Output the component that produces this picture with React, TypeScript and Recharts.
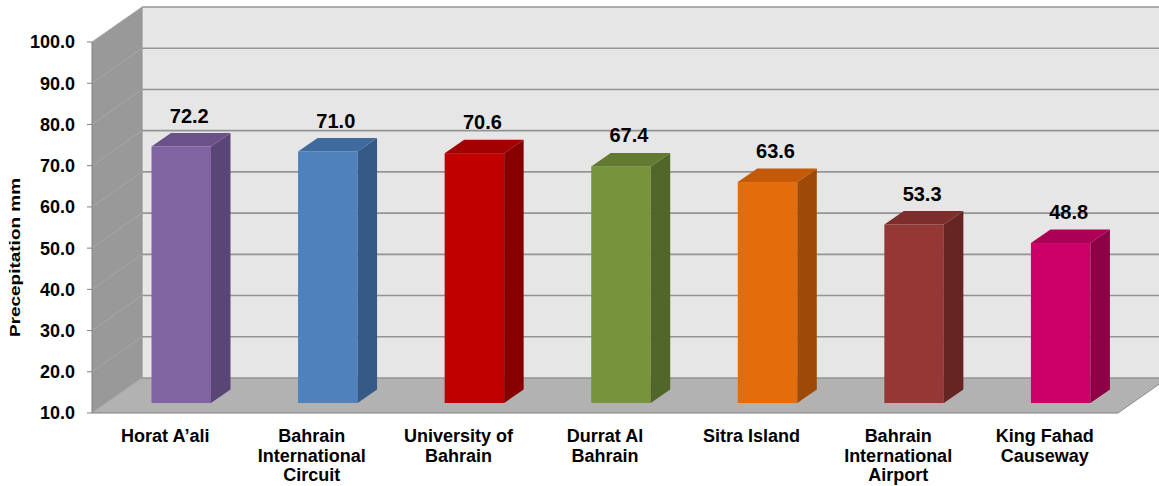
import React from 'react';
import { BarChart, Bar, XAxis, YAxis, CartesianGrid, LabelList } from 'recharts';

document.body.style.margin = '0';

const stations = [
  'Horat A’ali',
  'Bahrain\nInternational\nCircuit',
  'University of\nBahrain',
  'Durrat Al\nBahrain',
  'Sitra Island',
  'Bahrain\nInternational\nAirport',
  'King Fahad\nCauseway',
];
const rainfall = [72.2, 71.0, 70.6, 67.4, 63.6, 53.3, 48.8];
const yTicks = [10, 20, 30, 40, 50, 60, 70, 80, 90, 100];

const frontColors = ['#8064A2', '#4F81BD', '#C00000', '#77933C', '#E46C0A', '#953735', '#CC0066'];
const topColors = ['#6A5189', '#3E6A9E', '#A30000', '#627A31', '#C25A08', '#7C2D2C', '#AC0056'];
const sideColors = ['#594576', '#365A86', '#860000', '#51672A', '#9E4A07', '#662523', '#8C0046'];

const data = stations.map((name, i) => ({ name, value: rainfall[i] }));

// 3d look: offset of the back wall, of the bar inside the depth, and of the bar's own depth
const WALL_DX = 50;
const WALL_DY = -35;
const BAR_DX = 15.5;
const BAR_DY = -10;
const DEPTH_DX = 19.5;
const DEPTH_DY = -13.5;

const FONT = '"Liberation Sans", Arial, sans-serif';

const Bar3D = (props: any) => {
  const { x, y, width, height, index } = props;
  const fx = x + BAR_DX;
  const fy = y + BAR_DY;
  const r = fx + width;
  const b = fy + height;
  const top = `${fx},${fy} ${fx + DEPTH_DX},${fy + DEPTH_DY} ${r + DEPTH_DX},${fy + DEPTH_DY} ${r},${fy}`;
  const side = `${r},${fy} ${r + DEPTH_DX},${fy + DEPTH_DY} ${r + DEPTH_DX},${b + DEPTH_DY} ${r},${b}`;
  return (
    <g>
      <rect x={fx} y={fy} width={width} height={height} fill={frontColors[index]} />
      <polygon points={side} fill={sideColors[index]} />
      <polygon points={top} fill={topColors[index]} />
    </g>
  );
};

const GridLine3D = (props: any) => {
  const { x1, y1, x2, index, horizontalPoints } = props;
  const pts: number[] = horizontalPoints && horizontalPoints.length ? horizontalPoints : [y1];
  const top = props.height ? props.y : Math.min(...pts);
  const bottom = props.height ? props.y + props.height : Math.max(...pts);
  const left = x1;
  const right = x2;
  return (
    <g key={props.key}>
      {index === 0 && (
        <g>
          <rect
            x={left + WALL_DX}
            y={top + WALL_DY}
            width={right - left}
            height={bottom - top}
            fill="#E6E6E6"
          />
          <polygon
            points={`${left},${top} ${left + WALL_DX},${top + WALL_DY} ${left + WALL_DX},${bottom + WALL_DY} ${left},${bottom}`}
            fill="#999999"
          />
          <polygon
            points={`${left},${bottom} ${right},${bottom} ${right + WALL_DX},${bottom + WALL_DY} ${left + WALL_DX},${bottom + WALL_DY}`}
            fill="#B2B2B2"
          />
          <line x1={left + WALL_DX} y1={top + WALL_DY} x2={left + WALL_DX} y2={bottom + WALL_DY} stroke="#8C8C8C" />
          <line x1={right} y1={bottom} x2={right + WALL_DX} y2={bottom + WALL_DY} stroke="#8C8C8C" />
        </g>
      )}
      <line x1={left} y1={y1} x2={left + WALL_DX} y2={y1 + WALL_DY} stroke="#A8A8A8" strokeWidth={1} />
      <line x1={left + WALL_DX} y1={y1 + WALL_DY} x2={right + WALL_DX} y2={y1 + WALL_DY} stroke="#949494" strokeWidth={1.6} />
    </g>
  );
};

const StationTick = (props: any) => {
  const { x, y, payload } = props;
  const lines = String(payload.value).split('\n');
  return (
    <text x={x} y={y + 29} textAnchor="middle" fontSize={18} fontWeight="bold" fill="#000" fontFamily={FONT}>
      {lines.map((line, i) => (
        <tspan key={i} x={x} dy={i === 0 ? 0 : 19.5}>
          {line}
        </tspan>
      ))}
    </text>
  );
};

const ValueLabel = (props: any) => {
  const { x, y, width, value } = props;
  return (
    <text
      x={x + width / 2 + BAR_DX + 8}
      y={y + BAR_DY - 24}
      textAnchor="middle"
      fontSize={20}
      fontWeight="bold"
      fill="#000"
      fontFamily={FONT}
    >
      {Number(value).toFixed(1)}
    </text>
  );
};

const YTitle = (props: any) => {
  const vb = props.viewBox || { y: 42, height: 371 };
  const cx = 20;
  const cy = vb.y + vb.height / 2 + 30;
  return (
    <text
      x={cx}
      y={cy}
      transform={`rotate(-90 ${cx} ${cy})`}
      textAnchor="middle"
      fontSize={15}
      fontWeight="bold"
      fill="#000"
      fontFamily={FONT}
      textLength={159}
      lengthAdjust="spacingAndGlyphs"
    >
      Precepitation mm
    </text>
  );
};

const App = () => {
  return (
    <div style={{ width: 1159, height: 486, background: '#fff', fontFamily: FONT }}>
      <BarChart width={1159} height={486} data={data} margin={{ top: 42, right: 41, left: 0, bottom: 0 }}>
        <CartesianGrid vertical={false} horizontal={GridLine3D as any} />
        <XAxis
          dataKey="name"
          interval={0}
          height={73}
          tick={<StationTick />}
          tickLine={false}
          tickSize={0}
          tickMargin={0}
          axisLine={{ stroke: '#808080' }}
        />
        <YAxis
          width={92}
          domain={[10, 100]}
          ticks={yTicks}
          allowDataOverflow
          tickFormatter={(v: number) => v.toFixed(1)}
          tickSize={5}
          tickMargin={12}
          tickLine={{ stroke: '#808080' }}
          axisLine={{ stroke: '#808080' }}
          tick={{ fill: '#000', fontSize: 18, fontWeight: 'bold', fontFamily: FONT }}
          label={{ value: 'Precepitation mm', content: <YTitle /> }}
        />
        <Bar dataKey="value" barSize={59.5} shape={<Bar3D />} isAnimationActive={false}>
          <LabelList dataKey="value" content={<ValueLabel />} />
        </Bar>
      </BarChart>
    </div>
  );
};

export default App;
